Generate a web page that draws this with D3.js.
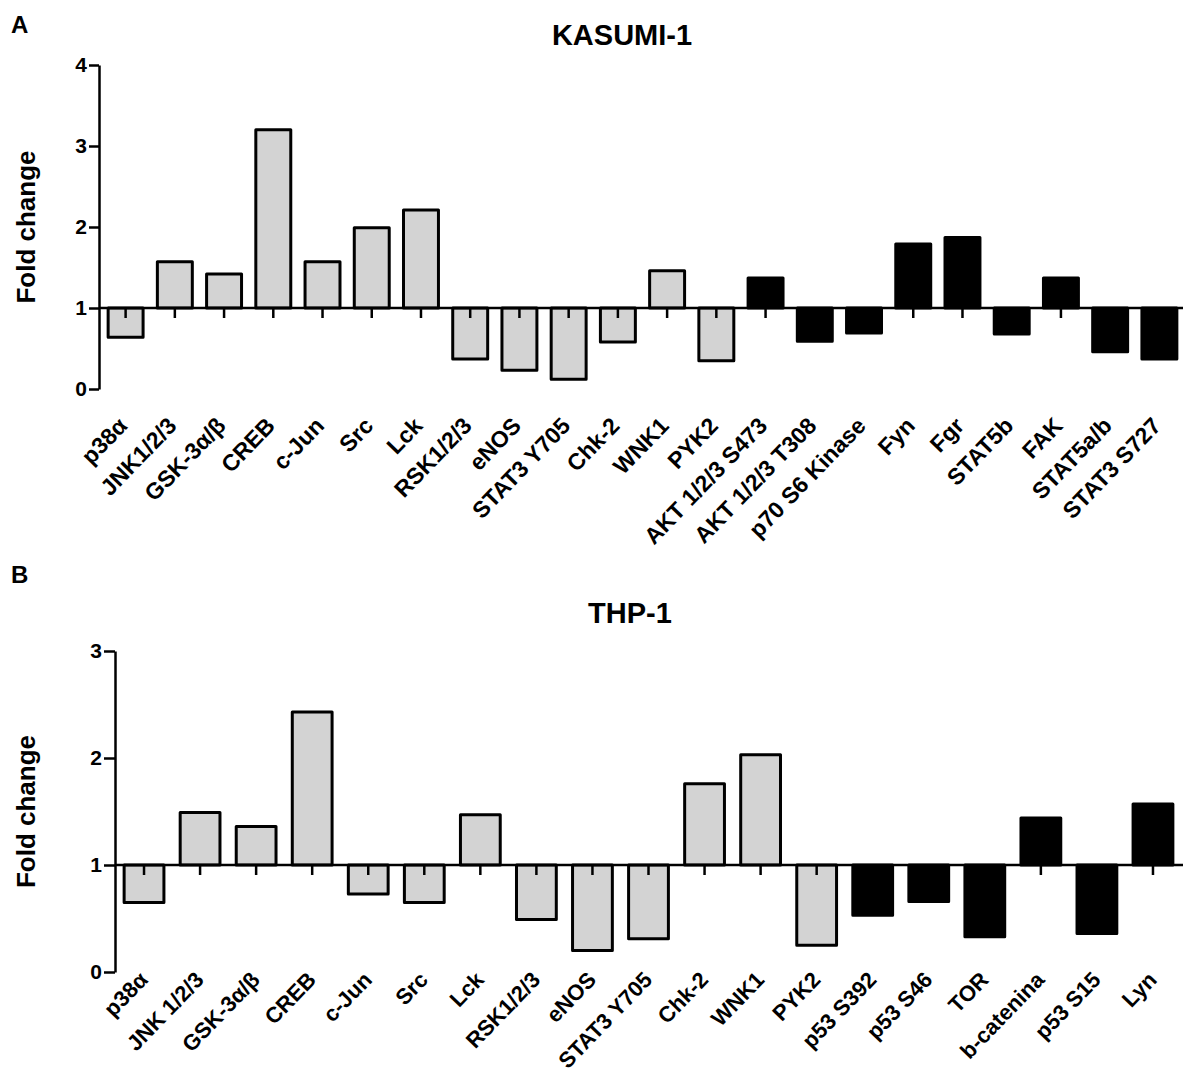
<!DOCTYPE html>
<html>
<head>
<meta charset="utf-8">
<script src="https://cdn.jsdelivr.net/npm/d3@7"></script>
<style>
  body { margin: 0; background: #fff; }
  svg { display: block; font-family: "Liberation Sans", Arial, sans-serif; }
</style>
</head>
<body>
<div id="chart"></div>
<script>
// Panel A - KASUMI-1
const kasumiLabels = ["p38\u03b1", "JNK1/2/3", "GSK-3\u03b1/\u03b2", "CREB", "c-Jun", "Src", "Lck",
    "RSK1/2/3", "eNOS", "STAT3 Y705", "Chk-2", "WNK1", "PYK2", "AKT 1/2/3 S473",
    "AKT 1/2/3 T308", "p70 S6 Kinase", "Fyn", "Fgr", "STAT5b", "FAK", "STAT5a/b", "STAT3 S727"];
const kasumiValues = [0.64, 1.57, 1.42, 3.2, 1.57, 1.99, 2.21, 0.37, 0.23, 0.12, 0.58, 1.46,
    0.35, 1.37, 0.59, 0.69, 1.79, 1.87, 0.68, 1.37, 0.46, 0.37];
const kasumiGroup = ["shared", "shared", "shared", "shared", "shared", "shared", "shared", "shared",
    "shared", "shared", "shared", "shared", "shared", "unique", "unique", "unique", "unique",
    "unique", "unique", "unique", "unique", "unique"];
const kasumiTicks = [0, 1, 2, 3, 4];

// Panel B - THP-1
const thpLabels = ["p38\u03b1", "JNK 1/2/3", "GSK-3\u03b1/\u03b2", "CREB", "c-Jun", "Src", "Lck",
    "RSK1/2/3", "eNOS", "STAT3 Y705", "Chk-2", "WNK1", "PYK2", "p53 S392", "p53 S46", "TOR",
    "b-catenina", "p53 S15", "Lyn"];
const thpValues = [0.65, 1.49, 1.36, 2.43, 0.73, 0.65, 1.47, 0.49, 0.2, 0.31, 1.76, 2.03,
    0.25, 0.53, 0.66, 0.33, 1.44, 0.36, 1.57];
const thpGroup = ["shared", "shared", "shared", "shared", "shared", "shared", "shared", "shared",
    "shared", "shared", "shared", "shared", "shared", "unique", "unique", "unique", "unique",
    "unique", "unique"];
const thpTicks = [0, 1, 2, 3];

const baseline = 1;
const fills = { shared: "#d3d3d3", unique: "#000" };

const svg = d3.select("#chart")
    .append("svg")
    .attr("width", 1183)
    .attr("height", 1077);

function drawPanel(opts) {
    const { labels, values, group, ticks, letter, title, axisX, xRange, yRange,
        letterY, titleX, titleY, labelDx, labelDy, labelSize, tickLen } = opts;
    const g = svg.append("g");

    const x = d3.scaleBand()
        .domain(labels)
        .range(xRange)
        .paddingInner(0.29)
        .paddingOuter(0.145);

    const y = d3.scaleLinear()
        .domain(d3.extent(ticks))
        .range(yRange);

    // bars start at fold change = 1
    g.selectAll("rect")
        .data(labels)
        .join("rect")
        .attr("x", d => x(d))
        .attr("width", x.bandwidth())
        .attr("y", (d, i) => Math.min(y(values[i]), y(baseline)))
        .attr("height", (d, i) => Math.abs(y(values[i]) - y(baseline)))
        .attr("fill", (d, i) => fills[group[i]])
        .attr("stroke", "#000")
        .attr("stroke-width", 3)
        .attr("stroke-linejoin", "round");

    // Y axis
    const yAxis = g.append("g")
        .attr("transform", `translate(${axisX},0)`)
        .call(d3.axisLeft(y)
            .tickValues(ticks)
            .tickFormat(d3.format("d"))
            .tickSize(tickLen)
            .tickSizeOuter(0)
            .tickPadding(2));
    yAxis.selectAll("path, line").attr("stroke-width", 2.5);
    yAxis.selectAll("text")
        .attr("font-size", 21)
        .attr("font-weight", "bold")
        .attr("font-family", "Liberation Sans, Arial, sans-serif")
        .attr("fill", "#000");

    // X axis on the baseline
    const xAxis = g.append("g")
        .attr("transform", `translate(0,${y(baseline)})`)
        .call(d3.axisBottom(x).tickSize(10).tickSizeOuter(0).tickFormat(""));
    xAxis.select(".domain").remove();
    xAxis.selectAll("line").attr("stroke-width", 2.5);
    xAxis.append("line")
        .attr("x1", axisX)
        .attr("x2", 1183)
        .attr("stroke", "#000")
        .attr("stroke-width", 2.5);

    // category labels
    g.selectAll(".cat")
        .data(labels)
        .join("text")
        .attr("class", "cat")
        .attr("text-anchor", "end")
        .attr("font-size", labelSize)
        .attr("font-weight", "bold")
        .attr("transform", d => `translate(${x(d) + x.bandwidth() / 2 + labelDx},${y(0) + labelDy}) rotate(-46)`)
        .text(d => d);

    // Y label
    g.append("text")
        .attr("transform", `translate(35,${(yRange[0] + yRange[1]) / 2}) rotate(-90)`)
        .attr("text-anchor", "middle")
        .attr("font-size", 26)
        .attr("font-weight", "bold")
        .text("Fold change");

    g.append("text")
        .attr("x", titleX)
        .attr("y", titleY)
        .attr("text-anchor", "middle")
        .attr("font-size", 29)
        .attr("font-weight", "bold")
        .text(title);

    g.append("text")
        .attr("x", 11)
        .attr("y", letterY)
        .attr("font-size", 24)
        .attr("font-weight", "bold")
        .text(letter);
}

drawPanel({
    labels: kasumiLabels, values: kasumiValues, group: kasumiGroup, ticks: kasumiTicks,
    letter: "A", title: "KASUMI-1", axisX: 99, xRange: [101, 1184], yRange: [389, 65],
    letterY: 33, titleX: 622, titleY: 45, labelDx: 3, labelDy: 38, labelSize: 23, tickLen: 10
});

drawPanel({
    labels: thpLabels, values: thpValues, group: thpGroup, ticks: thpTicks,
    letter: "B", title: "THP-1", axisX: 115, xRange: [116, 1181], yRange: [972, 651],
    letterY: 583, titleX: 630, titleY: 623, labelDx: 5, labelDy: 9, labelSize: 22, tickLen: 11
});
</script>
</body>
</html>
